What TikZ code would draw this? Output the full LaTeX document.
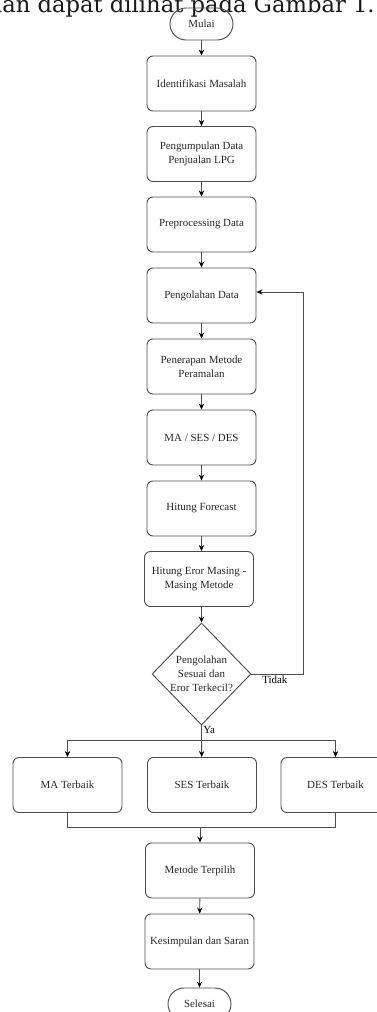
\documentclass[tikz,border=0pt]{standalone}
\usepackage{fontspec}
\setmainfont{Liberation Serif}
\newfontfamily\bodyfont{DejaVu Serif}
\usetikzlibrary{arrows.meta,shapes.geometric}

\begin{document}
\begin{tikzpicture}[x=0.75pt,y=-0.75pt,
        font=\fontsize{8.2}{10.5}\selectfont,
        process/.style={draw=black!70, line width=0.7pt, rounded corners=4.5pt,
            minimum width=81.75pt, minimum height=41.25pt, align=center, text=black!85},
        terminal/.style={draw=black!70, line width=0.7pt, rounded corners=12pt,
            minimum width=47.25pt, minimum height=24pt, text=black!85},
        decision/.style={draw=black!70, line width=0.7pt, diamond, aspect=0.97, inner sep=-1pt,
            minimum width=74.25pt, minimum height=76.5pt, align=center, text=black!85},
        line/.style={draw=black!70, line width=0.7pt},
        arrow/.style={line, -{Stealth[length=4.5pt,width=4pt,color=black]}}]

        \clip (0,0) rectangle (377,1012);

        % Text of the page above the figure
        \node[font=\bodyfont\fontsize{17}{20}\selectfont, anchor=base east, inner sep=0pt, text=black!90]
            (Intro) at (375,13) {dan dapat dilihat pada Gambar 1.};

        % Defining the steps of the flow
        \node[terminal] (Mulai) at (201.5,24) {Mulai};
        \node[process] (Identifikasi) at (201.5,83.5) {Identifikasi Masalah};
        \node[process] (Pengumpulan) at (201.5,154) {Pengumpulan Data\\Penjualan LPG};
        \node[process] (Preprocessing) at (201.5,224.5) {Preprocessing Data};
        \node[process] (Pengolahan) at (201.5,295.5) {Pengolahan Data};
        \node[process] (Penerapan) at (201.5,366.5) {Penerapan Metode\\Peramalan};
        \node[process] (Metode) at (201.5,437.5) {MA / SES / DES};
        \node[process] (Forecast) at (201.5,508.5) {Hitung Forecast};
        \node[process] (HitungEror) at (199,579) {Hitung Eror Masing -\\Masing Metode};
        \node[decision] (Keputusan) at (201.5,674) {Pengolahan\\Sesuai dan\\Eror Terkecil?};

        \node[process] (MATerbaik) at (67.5,785) {MA Terbaik};
        \node[process] (SESTerbaik) at (202,785) {SES Terbaik};
        \node[process] (DESTerbaik) at (335.5,785) {DES Terbaik};

        \node[process] (MetodeTerpilih) at (200,870.5) {Metode Terpilih};
        \node[process] (Kesimpulan) at (199.5,941.5) {Kesimpulan dan Saran};
        \node[terminal] (Selesai) at (199.5,1004) {Selesai};

        % Labels of the decision
        \node[anchor=north west, inner sep=0pt] (Tidak) at (262,676) {Tidak};
        \node[anchor=west, inner sep=0pt] (Ya) at (203,730) {Ya};

        % Helper points
        \coordinate (Balik) at (303,292);
        \coordinate (Cabang) at (201.5,740);
        \coordinate (Gabung) at (200,827);

        % Defining the links between the steps
        \draw[arrow] (Mulai) -- (Identifikasi);
        \draw[arrow] (Identifikasi) -- (Pengumpulan);
        \draw[arrow] (Pengumpulan) -- (Preprocessing);
        \draw[arrow] (Preprocessing) -- (Pengolahan);
        \draw[arrow] (Pengolahan) -- (Penerapan);
        \draw[arrow] (Penerapan) -- (Metode);
        \draw[arrow] (Metode) -- (Forecast);
        \draw[arrow] (Forecast) -- (Forecast |- HitungEror.north);
        \draw[arrow] (HitungEror.south -| Keputusan) -- (Keputusan);

        % Loop back and branches
        \draw[arrow] (Keputusan.east) -| (Balik) -- (Balik -| Pengolahan.east);
        \draw[line] (Keputusan.south) -- (Cabang);
        \draw[arrow] (Cabang) -| (MATerbaik);
        \draw[arrow] (Cabang) -- (SESTerbaik);
        \draw[arrow] (Cabang) -| (DESTerbaik);

        \draw[line] (MATerbaik.south) |- (Gabung) -| (DESTerbaik.south);
        \draw[arrow] (Gabung) -- (MetodeTerpilih);
        \draw[arrow] (MetodeTerpilih) -- (Kesimpulan);
        \draw[arrow] (Kesimpulan) -- (Selesai);
    \end{tikzpicture}
\end{document}
